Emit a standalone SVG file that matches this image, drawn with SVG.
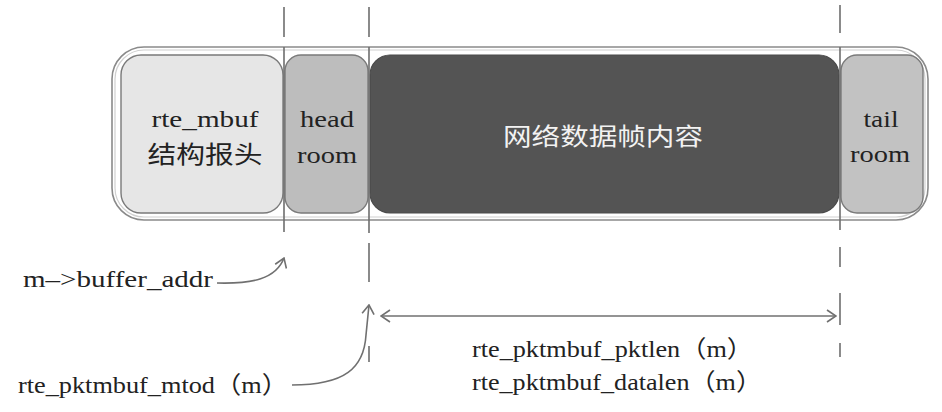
<svg xmlns="http://www.w3.org/2000/svg" width="942" height="412" viewBox="0 0 942 412">
<style>
.t{font-family:'Liberation Serif',serif;font-size:24px;fill:#222}
.tc{font-family:'Liberation Serif','Noto Sans CJK SC',serif;font-size:24px;fill:#222}
.c{font-family:'Noto Sans CJK SC','Liberation Sans',sans-serif;font-size:24px;fill:#f2f2f2}
.v{stroke:#6e6e6e;stroke-width:1.6;fill:none}
.cv{stroke:#707070;stroke-width:1.6;fill:none}
.box{stroke:#7a7a7a;stroke-width:1.4}
</style>
<defs>
<marker id="ah" viewBox="-11 -7 12 14" refX="0" refY="0" markerWidth="12" markerHeight="14" markerUnits="userSpaceOnUse" orient="auto-start-reverse">
<path d="M-9,-6 L0,0 L-9,6" fill="none" stroke="#707070" stroke-width="1.6"/>
</marker>
</defs>
<rect width="942" height="412" fill="#ffffff"/>
<g id="buffer">
<rect x="112" y="47" width="816" height="173" rx="32" fill="#ffffff" stroke="#8a8a8a" stroke-width="1.6"/>
<rect x="115" y="50" width="810" height="167" rx="29" fill="none" stroke="#d0d0d0" stroke-width="1.2"/>
</g>
<g id="mbuf-header">
<rect class="box" x="121" y="55" width="162" height="158" rx="20" fill="#e6e6e6"/>
<text class="t" x="205" y="127" text-anchor="middle" textLength="107" lengthAdjust="spacingAndGlyphs">rte_mbuf</text>
<text class="tc" x="205" y="163" text-anchor="middle" textLength="115" lengthAdjust="spacingAndGlyphs">结构报头</text>
</g>
<g id="headroom">
<rect class="box" x="285" y="55" width="83" height="158" rx="16" fill="#bdbdbd"/>
<text class="t" x="327" y="127" text-anchor="middle" textLength="54" lengthAdjust="spacingAndGlyphs">head</text>
<text class="t" x="327" y="163" text-anchor="middle" textLength="60" lengthAdjust="spacingAndGlyphs">room</text>
</g>
<g id="packet-data">
<rect x="370" y="55" width="469" height="158" rx="20" fill="#545454" stroke="#4a4a4a" stroke-width="1.2"/>
<text class="c" x="603" y="145" text-anchor="middle" textLength="200" lengthAdjust="spacingAndGlyphs">网络数据帧内容</text>
</g>
<g id="tailroom">
<rect class="box" x="841" y="55" width="82" height="158" rx="16" fill="#c2c2c2"/>
<text class="t" x="881" y="127" text-anchor="middle" textLength="35" lengthAdjust="spacingAndGlyphs">tail</text>
<text class="t" x="880" y="162" text-anchor="middle" textLength="60" lengthAdjust="spacingAndGlyphs">room</text>
</g>
<g id="connectors">
<path class="v" d="M284,7 V37 M284,47 V232"/>
<path class="v" d="M369,7 V37 M369,47 V233 M369,243 V282 M369,346 V362"/>
<path class="v" d="M840,5 V33 M840,47 V230 M840,247 V267 M840,293 V325 M840,343 V357"/>
<path class="cv" d="M217,283 C252,284 276,279 284,258" marker-end="url(#ah)"/>
<path class="cv" d="M292,385 C345,385 364,368 366,335 L369,305" marker-end="url(#ah)"/>
<line class="cv" x1="381" y1="316" x2="836" y2="316" marker-start="url(#ah)" marker-end="url(#ah)"/>
</g>
<g id="labels">
<text class="t" x="23" y="287" textLength="190" lengthAdjust="spacingAndGlyphs">m–&gt;buffer_addr</text>
<text class="tc" x="18" y="393" textLength="270" lengthAdjust="spacingAndGlyphs">rte_pktmbuf_mtod（m）</text>
<text class="tc" x="472" y="357" textLength="281" lengthAdjust="spacingAndGlyphs">rte_pktmbuf_pktlen（m）</text>
<text class="tc" x="472" y="390" textLength="290" lengthAdjust="spacingAndGlyphs">rte_pktmbuf_datalen（m）</text>
</g>
</svg>
